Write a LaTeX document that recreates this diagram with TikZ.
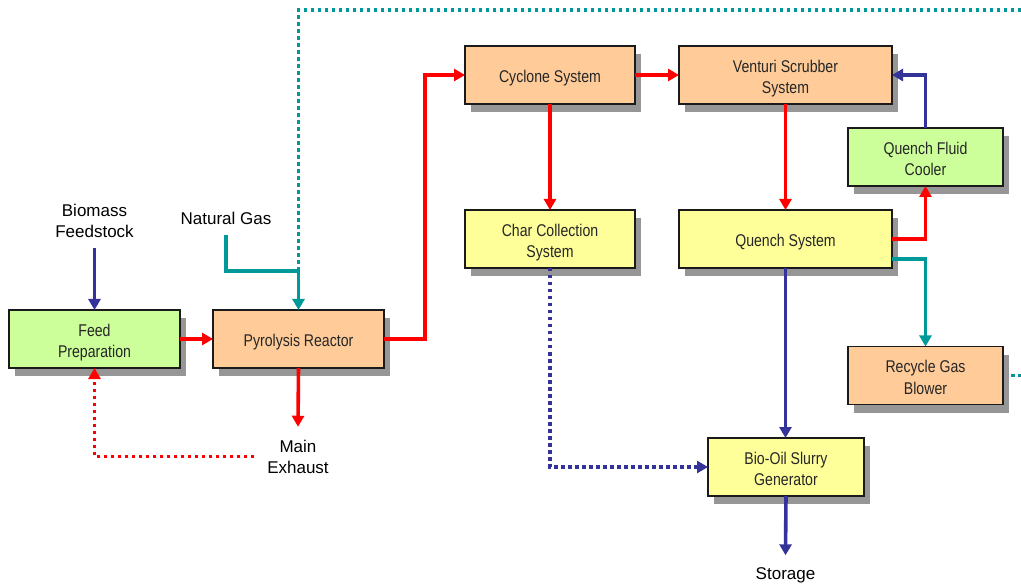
\documentclass[tikz,border=0pt]{standalone}
\usepackage{fontspec}
\setmainfont{Liberation Sans}
\newfontfamily\narrowsans[FakeStretch=0.83]{Liberation Sans}
\usetikzlibrary{arrows.meta,shadows}

\definecolor{fillorange}{HTML}{FFCC99}
\definecolor{fillgreen}{HTML}{CCFF99}
\definecolor{fillyellow}{HTML}{FFFF99}
\definecolor{shadowgray}{HTML}{969696}
\definecolor{edgegray}{HTML}{1A1A1A}
\definecolor{boxtext}{HTML}{262626}
\definecolor{flowred}{HTML}{FF0000}
\definecolor{flowblue}{HTML}{333399}
\definecolor{flowteal}{HTML}{009999}

\tikzset{
  unit/.style={draw=edgegray, line width=1.3pt, inner sep=0pt, outer sep=0pt,
    align=center, text=boxtext, minimum height=58pt,
    text height=16pt, text depth=0pt,
    font=\narrowsans\fontsize{17}{21}\selectfont,
    drop shadow={shadow xshift=6pt, shadow yshift=-8pt, fill=shadowgray, opacity=1}},
  twoline/.style={text height=37pt, text depth=0pt},
  orangeunit/.style={unit, fill=fillorange},
  greenunit/.style={unit, fill=fillgreen},
  yellowunit/.style={unit, fill=fillyellow},
  streamlabel/.style={inner sep=0pt, outer sep=0pt, align=center,
    font=\fontsize{17}{21}\selectfont},
  flow/.style={line width=3.6pt, -{Triangle[length=11pt,width=12pt]}},
  pipe/.style={line width=3.6pt},
  dots/.style={line width=3.6pt, dash pattern=on 3.5pt off 3.5pt},
  redflow/.style={flow, color=flowred},
  blueflow/.style={flow, color=flowblue},
  tealflow/.style={flow, color=flowteal},
}

\begin{document}
\begin{tikzpicture}[x=1pt, y=-1pt]
\useasboundingbox (0,0) rectangle (1021,588);

% process units
\node[greenunit, twoline,  minimum width=171pt] (feed)    at (94.5,339)  {Feed\\Preparation};
\node[orangeunit, minimum width=171pt] (pyro)    at (298.5,339) {Pyrolysis Reactor};
\node[orangeunit, minimum width=170pt] (cyclone) at (550,75)    {Cyclone System};
\node[orangeunit, twoline, minimum width=213pt] (venturi) at (785.5,75)  {Venturi Scrubber\\System};
\node[greenunit, twoline,  minimum width=155pt] (cooler)  at (925.5,157) {Quench Fluid\\Cooler};
\node[yellowunit, twoline, minimum width=170pt] (char)    at (550,239)   {Char Collection\\System};
\node[yellowunit, minimum width=213pt] (quench)  at (785.5,239) {Quench System};
\node[orangeunit, twoline, minimum width=155pt] (blower)  at (925.5,375.5) {Recycle Gas\\Blower};
\node[yellowunit, twoline, minimum width=156pt] (bio)     at (786,467)   {Bio-Oil Slurry\\Generator};

% stream labels
\node[streamlabel] (biomass) at (94.5,221) {Biomass\\Feedstock};
\node[streamlabel] (gas)     at (226,218.5)    {Natural Gas};
\node[streamlabel] (exhaust) at (298,456.5)    {Main\\Exhaust};
\node[streamlabel] (storage) at (785.5,575.5) {Storage};

% junctions and open ends
\coordinate (gasjoin)  at (298.5,271);
\coordinate (topright) at (1021,10);
\coordinate (blowout)  at (1021,375.5);

% red process-gas path
\draw[redflow] (feed.east) -- (pyro.west);
\draw[redflow] (pyro.east) -- ++(41,0) |- (cyclone.west);
\draw[redflow] (pyro.south) -- ([yshift=13pt]exhaust.north);
\draw[redflow] (cyclone.east) -- (venturi.west);
\draw[redflow] (cyclone.south) -- (char.north);
\draw[redflow] (venturi.south) -- (quench.north);
\draw[redflow] (quench.east) -| (cooler.south);
\draw[redflow, dots] ([xshift=-13pt]exhaust.west) -| (feed.south);

% blue liquid path
\draw[blueflow] ([yshift=-10pt]biomass.south) -- (feed.north);
\draw[blueflow] (cooler.north) |- (venturi.east);
\draw[blueflow] (quench.south) -- (quench.south |- bio.north);
\draw[blueflow] (bio.south) -- ([yshift=12.5pt]storage.north);
\draw[blueflow, dots] (char.south) |- (bio.west);

% teal gas path
\draw[pipe, draw=flowteal] ([yshift=-10pt]gas.south) |- (gasjoin);
\draw[tealflow] (gasjoin) -- (pyro.north);
\draw[dots, draw=flowteal] (gasjoin) |- (topright);
\draw[tealflow] ([yshift=-20pt]quench.east) -| (blower.north);
\draw[dots, draw=flowteal] ([xshift=8pt]blower.east) -- (blowout);
\end{tikzpicture}
\end{document}
